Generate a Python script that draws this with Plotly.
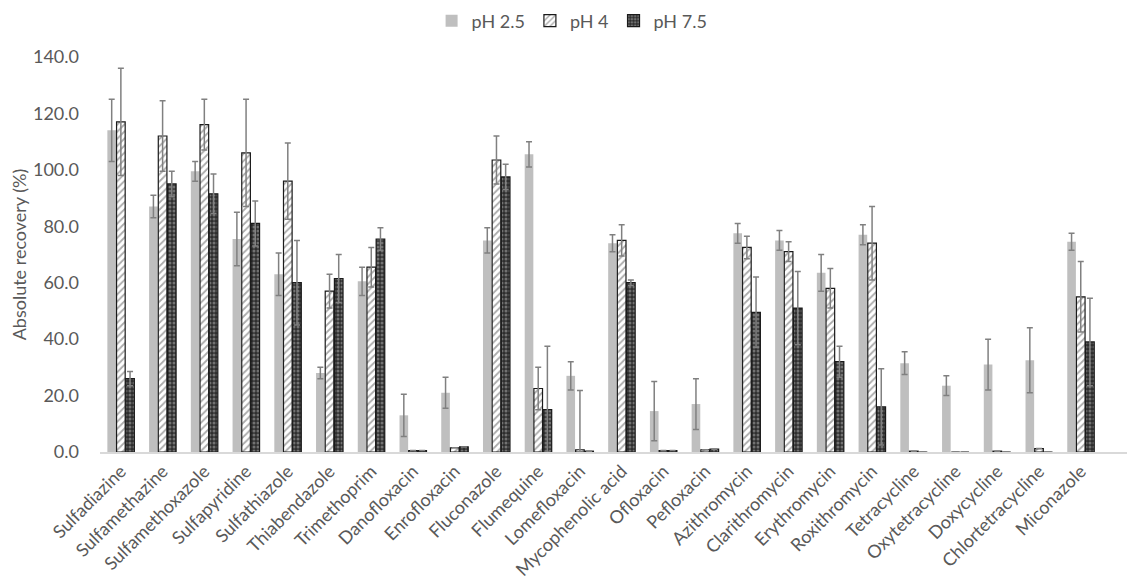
import numpy as np
import plotly.graph_objects as go

compounds = ["Sulfadiazine", "Sulfamethazine", "Sulfamethoxazole", "Sulfapyridine", "Sulfathiazole",
             "Thiabendazole", "Trimethoprim", "Danofloxacin", "Enrofloxacin", "Fluconazole",
             "Flumequine", "Lomefloxacin", "Mycophenolic acid", "Ofloxacin", "Pefloxacin",
             "Azithromycin", "Clarithromycin", "Erythromycin", "Roxithromycin", "Tetracycline",
             "Oxytetracycline", "Doxycycline", "Chlortetracycline", "Miconazole"]

ph25 = [114, 87, 99.5, 75.5, 63, 28, 60.5, 13, 21, 75, 105.5, 27, 74, 14.5, 17, 77.5, 75, 63.5, 77, 31.5, 23.5, 31, 32.5, 74.5]
ph25_err = [11, 4, 3.5, 9.5, 7.5, 2, 5, 7.5, 5.5, 4.5, 4.5, 5, 3, 10.5, 9, 3.5, 3.5, 6.5, 3.5, 4, 3.5, 9, 11.5, 3]
ph4 = [117, 112, 116, 106, 96, 57, 65.5, 0.5, 1.5, 103.5, 22.5, 0.8, 75, 0.5, 0.8, 72.5, 71, 58, 74, 0.3, 0, 0.3, 1.2, 55]
ph4_err = [19, 12.5, 9, 19, 13.5, 6, 7, 0, 0, 8.5, 7.5, 21, 5.5, 0, 0, 4, 3.5, 7, 13, 0, 0, 0, 0, 12.5]
ph75 = [26, 95, 91.5, 81, 60, 61.5, 75.5, 0.5, 1.8, 97.5, 15, 0.3, 60, 0.5, 1.0, 49.5, 51, 32, 16, 0, 0, 0, 0, 39]
ph75_err = [2.5, 4.5, 7, 8, 15, 8.5, 4, 0, 0, 4.5, 22.5, 0, 1, 0, 0, 12.5, 13, 5.5, 13.5, 0, 0, 0, 0, 15.5]

yticks = [0, 20, 40, 60, 80, 100, 120, 140]

FONT = "Lato"
TXT = "#595959"
ERRC = "#808080"


def err(vals, errs):
    return dict(type="data", array=errs, arrayminus=list(np.minimum(errs, vals)),
                visible=True, color=ERRC, thickness=1.5, width=3)


fig = go.Figure()
fig.add_trace(go.Bar(name="pH 2.5", x=compounds, y=ph25, error_y=err(ph25, ph25_err),
                     marker=dict(color="#bfbfbf", line=dict(width=0))))
fig.add_trace(go.Bar(name="pH 4", x=compounds, y=ph4, error_y=err(ph4, ph4_err),
                     marker=dict(color="white", line=dict(color="#1a1a1a", width=1.2),
                                 pattern=dict(shape="/", fgcolor="#555555", bgcolor="white",
                                              size=5, solidity=0.35))))
fig.add_trace(go.Bar(name="pH 7.5", x=compounds, y=ph75, error_y=err(ph75, ph75_err),
                     marker=dict(color="#2e2e2e", line=dict(color="#1a1a1a", width=1.2),
                                 pattern=dict(shape=".", fgcolor="#b5b5b5", bgcolor="#2e2e2e",
                                              size=4, solidity=0.45))))

fig.update_layout(
    width=1135, height=586,
    paper_bgcolor="white", plot_bgcolor="white",
    barmode="group", bargap=0.34, bargroupgap=0.06,
    margin=dict(l=92, r=8, t=49, b=142, autoexpand=False),
    font=dict(family=FONT, color=TXT, size=18),
    showlegend=True,
    legend=dict(orientation="h", x=0.497, xanchor="center", xref="container", yref="container",
                y=1 - 13 / 586, yanchor="middle", itemwidth=30,
                font=dict(size=18, color=TXT), traceorder="normal"),
    xaxis=dict(range=[-0.5, 24.3], tickangle=-45, showline=True, linecolor="#d9d9d9", linewidth=1.5,
               ticks="", tickfont=dict(size=18, color=TXT), showgrid=False, automargin=False),
    yaxis=dict(range=[0, 140], tickvals=yticks, tickformat=".1f", showgrid=False, zeroline=False,
               showline=False, ticks="", ticklabelstandoff=20, tickfont=dict(size=18, color=TXT),
               automargin=False,
               title=dict(text="Absolute recovery (%)", font=dict(size=18, color=TXT), standoff=15)),
)

fig.write_html("out.html")
